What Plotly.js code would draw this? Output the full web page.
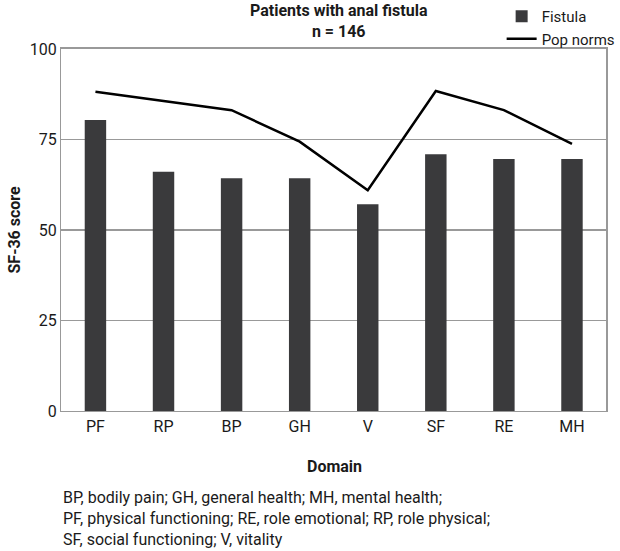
<!DOCTYPE html>
<html><head><meta charset="utf-8">
<script src="https://cdn.plot.ly/plotly-3.0.1.min.js"></script>
<style>body{margin:0;background:#fff}#c{width:620px;height:551px}</style>
</head><body><div id="c"></div>
<script>
const domains = ["PF","RP","BP","GH","V","SF","RE","MH"];
const fistula = [80.4, 66.1, 64.3, 64.3, 57.1, 70.9, 69.6, 69.6];
const popNorms = [88.2, 85.7, 83.1, 74.4, 61.0, 88.4, 83.1, 73.8];
const yTicks = [0, 25, 50, 75, 100];
const footnote = ["BP, bodily pain; GH, general health; MH, mental health;",
  "PF, physical functioning; RE, role emotional; RP, role physical;",
  "SF, social functioning; V, vitality"];

const F = "Roboto, sans-serif";
const C = "#1a1a1a";
const traces = [
  {type:"bar", x:domains, y:fistula, name:"Fistula", marker:{color:"#3a3a3c"}},
  {type:"scatter", mode:"lines", x:domains, y:popNorms, name:"Pop norms", line:{color:"#000", width:2.5}}
];
const layout = {
  width:620, height:551,
  margin:{l:0, r:0, t:0, b:0},
  paper_bgcolor:"#fff", plot_bgcolor:"#fff",
  font:{family:F, size:16, color:C},
  bargap:0.685,
  showlegend:true,
  legend:{x:0.817, xanchor:"left", y:1.0, yanchor:"top",
    font:{family:F, size:15, color:C}, bgcolor:"rgba(0,0,0,0)", tracegroupgap:0, itemwidth:30},
  xaxis:{domain:[0.1, 0.987], showline:true, linecolor:"#999", linewidth:1.5, mirror:true, ticks:"",
    tickfont:{family:F, size:16, color:C}},
  yaxis:{domain:[0.2541, 0.9111], range:[0,100], tickvals:yTicks, showgrid:true, gridcolor:"#999", gridwidth:1.5,
    showline:true, linecolor:"#999", linewidth:1.5, mirror:true, zeroline:false,
    ticks:"", ticklen:0, tickfont:{family:F, size:16, color:C}},
  annotations:[
    {xref:"paper", yref:"paper", x:0.552, y:1.0, yshift:1, xanchor:"center", yanchor:"top", align:"center",
      showarrow:false, text:"<b>Patients with anal fistula<br>n = 146</b>", font:{family:F, size:16, color:C}},
    {xref:"paper", yref:"paper", x:0.545, y:0.154, xanchor:"center", yanchor:"middle",
      showarrow:false, text:"<b>Domain</b>", font:{family:F, size:16, color:C}},
    {xref:"paper", yref:"paper", x:0.024, y:0.583, xanchor:"center", yanchor:"middle", textangle:-90,
      showarrow:false, text:"<b>SF-36 score</b>", font:{family:F, size:16, color:C}},
    {xref:"paper", yref:"paper", x:0.1, y:0.118, xanchor:"left", yanchor:"top", align:"left",
      showarrow:false, text:footnote.join("<br>"), font:{family:F, size:16, color:C}}
  ]
};
Plotly.newPlot("c", traces, layout, {displayModeBar:false, staticPlot:true});
</script></body></html>
